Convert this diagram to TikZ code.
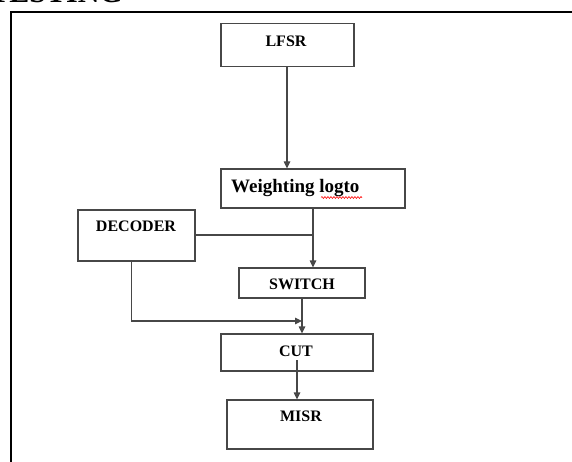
\documentclass[tikz,border=0pt]{standalone}
\usepackage{fontspec}
\setmainfont{Liberation Serif}
\usetikzlibrary{arrows.meta,decorations.pathmorphing}
\begin{document}
\begin{tikzpicture}[x=1pt,y=-1pt,
  blk/.style={draw=black!72,line width=1.2pt,inner sep=0pt},
  lbl/.style={inner sep=0pt,anchor=base,font=\bfseries\fontsize{16}{18}\selectfont},
  conn/.style={draw=black!72,line width=1.2pt},
  arr/.style={conn,-{Triangle[length=7pt,width=6.5pt]}}]
\useasboundingbox (0,0) rectangle (572,462);
\clip (0,0) rectangle (572,462);
% partial title and frame
\node[inner sep=0pt,anchor=base east,font=\bfseries\fontsize{30}{32}\selectfont] (title) at (123,2.5) {TESTING};
\draw[line width=2.2pt] (11,470) -- (11,12) -- (580,12);
% boxes
\node[blk,minimum width=133pt,minimum height=43pt] (lfsr) at (287.5,45) {};
\node[blk,minimum width=184pt,minimum height=39pt] (wl) at (313,188.5) {};
\node[blk,minimum width=117pt,minimum height=51pt] (dec) at (136.5,235.5) {};
\node[blk,minimum width=126pt,minimum height=30pt] (sw) at (302,283) {};
\node[blk,minimum width=152pt,minimum height=37pt] (cut) at (297,352.5) {};
\node[blk,minimum width=146pt,minimum height=49pt] (misr) at (300,424.5) {};
% labels
\node[lbl] (lfsrT) at (286,47) {LFSR};
\node[lbl,anchor=base west,font=\bfseries\fontsize{19}{21}\selectfont] (wlT) at (231,193) {Weighting logto};
\node[lbl] (decT) at (136,231) {DECODER};
\node[lbl] (swT) at (302,289) {SWITCH};
\node[lbl] (cutT) at (296,356) {CUT};
\node[lbl] (misrT) at (301,421) {MISR};
% spell-check squiggle
\coordinate (sqA) at (321,197.5);
\coordinate (sqB) at (362,197.5);
\draw[red,line width=0.6pt,decorate,decoration={snake,segment length=3pt,amplitude=0.9pt}] (sqA) -- (sqB);
% connectors
\draw[arr] (lfsr.south -| 287,0) -- (wl.north -| 287,0);
\draw[arr] (wl.south) -- (sw.north -| wl.south);
\coordinate (j1) at (314,235);
\draw[conn] (dec.east |- j1) -- (j1);
\draw[arr] (sw.south) -- (cut.north -| sw.south);
\coordinate (j2) at (131.5,321);
\coordinate (j3) at (302,321);
\draw[arr] (dec.south -| j2) -- (j2) -- (j3);
\coordinate (cs) at (297,360);
\draw[arr] (cs) -- (misr.north -| cs);
\end{tikzpicture}
\end{document}
